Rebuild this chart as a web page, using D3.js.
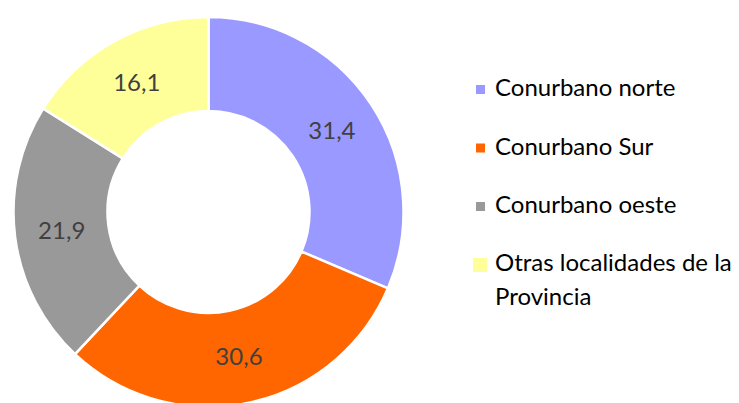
<!DOCTYPE html>
<html><head><meta charset="utf-8">
<script src="https://cdn.jsdelivr.net/npm/d3@7"></script>
<style>html,body{margin:0;padding:0;background:#fff;} svg{display:block;}</style>
</head><body>
<svg id="chart" width="739" height="403"></svg>
<script>
const categories = ["Conurbano norte", "Conurbano Sur", "Conurbano oeste", "Otras localidades de la Provincia"];
const values = [31.4, 30.6, 21.9, 16.1];
const valueLabels = ["31,4", "30,6", "21,9", "16,1"];
const colors = ["#9999FF", "#FF6600", "#999999", "#FFFF99"];
const legendLines = [["Conurbano norte"], ["Conurbano Sur"], ["Conurbano oeste"], ["Otras localidades de la", "Provincia"]];

const svg = d3.select("#chart");
const cx = 208.5, cy = 212, outerR = 195, innerR = 101;
const font = "Lato, 'Open Sans', sans-serif";

const data = categories.map((c, i) => ({cat: c, value: values[i], label: valueLabels[i], color: colors[i]}));
const pie = d3.pie().value(d => d.value).sort(null);
const arc = d3.arc().innerRadius(innerR).outerRadius(outerR);
const arcs = pie(data);

const g = svg.append("g").attr("transform", `translate(${cx},${cy})`);
g.selectAll("path").data(arcs).join("path")
  .attr("d", arc)
  .attr("fill", d => d.data.color)
  .attr("stroke", "#fff")
  .attr("stroke-width", 2.5);

g.selectAll("text.lbl").data(arcs).join("text")
  .attr("class", "lbl")
  .attr("transform", d => `translate(${arc.centroid(d)})`)
  .attr("text-anchor", "middle")
  .attr("dy", "0.35em")
  .attr("font-family", font)
  .attr("font-size", 24)
  .attr("fill", "#404040")
  .text(d => d.data.label);

// legend
const lg = svg.append("g");
const rowY = [96, 154.5, 213, 271];
data.forEach((d, i) => {
  const big = legendLines[i].length > 1;
  const s = big ? 14 : 9;
  const sx = big ? 473 : 476;
  const sy = big ? 258 : rowY[i] - 11;
  lg.append("rect").attr("x", sx).attr("y", sy).attr("width", s).attr("height", s).attr("fill", d.color);
  const t = lg.append("text").attr("x", 495).attr("y", rowY[i])
    .attr("font-family", font).attr("font-size", 24).attr("fill", "#000");
  legendLines[i].forEach((line, j) => {
    t.append("tspan").attr("x", 495).attr("dy", j === 0 ? 0 : 33.5).text(line);
  });
});
</script>
</body></html>
